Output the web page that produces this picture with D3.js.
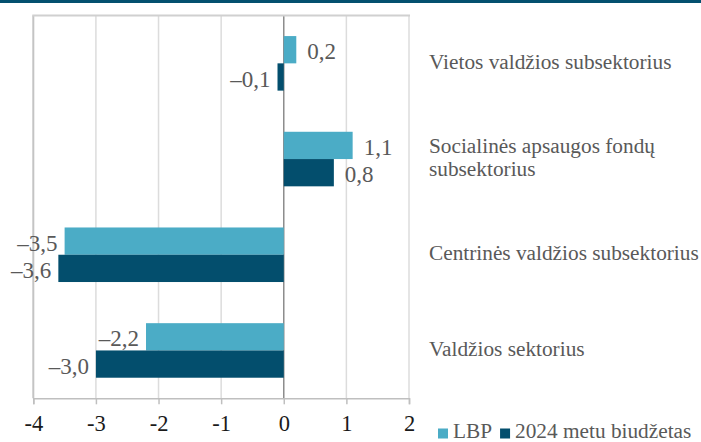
<!DOCTYPE html>
<html lang="lt">
<head>
	<meta charset="utf-8">
	<title>valdzios sektorius</title>
	<script src="https://d3js.org/d3.v7.min.js"></script>
	<style>
		body{ margin:0; background:#fff; }
	</style>
</head>
<body>
<div id="chart"></div>
<script>
// categories top -> bottom, each may have several lines
let categories=["Vietos","Soc","Centr","Valdz"];
let catLabels=[["Vietos valdžios subsektorius"],["Socialinės apsaugos fondų","subsektorius"],["Centrinės valdžios subsektorius"],["Valdžios sektorius"]];
let seriesNames=["LBP","2024 metu biudžetas"];
let lbp=[0.2,1.1,-3.5,-2.2];
let budget=[-0.1,0.8,-3.6,-3.0];
let ticks=[-4,-3,-2,-1,0,1,2];
let colors=["#4bacc6","#034e6d"];

let W=701,H=442;
let pTop=15.5,pBottom=398.3,pLeft=33.3,pRight=409;
let serif="'Liberation Serif', 'Times New Roman', Times, serif";

let svg=d3.select("#chart").append("svg").attr("width",W).attr("height",H)
	.attr("font-family",serif);

// dark band at the very top
svg.append("rect").attr("x",0).attr("y",0).attr("width",W).attr("height",3).attr("fill","#03506f");

let x=d3.scaleLinear().domain([-4,2]).range([pLeft,pRight]);
let y=d3.scaleBand().domain(categories).range([pTop,pBottom]).paddingInner(0.43).paddingOuter(0.215);
let ys=d3.scaleBand().domain([0,1]).range([0,y.bandwidth()]);

// grid + frame
svg.selectAll("line.grid").data(ticks).enter().append("line")
	.attr("x1",d=>x(d)).attr("x2",d=>x(d)).attr("y1",pTop).attr("y2",pBottom)
	.attr("stroke",d=>d==0?"#8c8c8c":(d==-4?"#c4c4c4":"#dcdcdc")).attr("stroke-width",d=>d==-4?2:1.5);
svg.append("line").attr("x1",x(-4)-1).attr("x2",x(2)+1).attr("y1",pTop).attr("y2",pTop).attr("stroke","#d0d0d0").attr("stroke-width",2);

// bottom axis
let ax=svg.append("g").attr("transform","translate(0,"+pBottom+")")
	.call(d3.axisBottom(x).tickValues(ticks).tickSize(6).tickPadding(11).tickFormat(d3.format("d")));
ax.attr("font-family",serif).attr("font-size",22.5);
ax.select(".domain").attr("stroke","#bfbfbf").attr("stroke-width",1.5);
ax.selectAll(".tick line").attr("stroke","#bfbfbf").attr("stroke-width",1.5);
ax.selectAll(".tick text").attr("fill","#1a1a1a").text(d=>d<0?"-"+Math.abs(d):d);

let series=[lbp,budget];
let fmt=v=>(v<0?"\u2013":"")+Math.abs(v).toFixed(1).replace(".",",");

series.forEach((vals,si)=>{
	let g=svg.append("g");
	g.selectAll("rect").data(vals).enter().append("rect")
		.attr("x",d=>x(Math.min(0,d)))
		.attr("width",d=>Math.abs(x(d)-x(0)))
		.attr("y",(d,i)=>y(categories[i])+ys(si))
		.attr("height",ys.bandwidth())
		.attr("fill",colors[si]);
	g.selectAll("text").data(vals).enter().append("text")
		.attr("x",d=>d<0?x(d)-7:x(d)+11)
		.attr("y",(d,i)=>y(categories[i])+ys(si)+ys.bandwidth()/2)
		.attr("dy","0.42em")
		.attr("text-anchor",d=>d<0?"end":"start")
		.attr("font-size",23).attr("fill","#595959")
		.text(fmt);
});

// category labels on the right
categories.forEach((c,i)=>{
	let lines=catLabels[i];
	let cy=y(c)+y.bandwidth()/2;
	let t=svg.append("text").attr("x",429).attr("y",cy-(lines.length-1)*11.5+5.5)
		.attr("font-size",21.3).attr("fill","#595959");
	lines.forEach((l,j)=>{
		t.append("tspan").attr("x",429).attr("dy",j==0?0:23).text(l);
	});
});

// legend
let lg=svg.append("g").attr("transform","translate(438,438)");
let lx=0;
seriesNames.forEach((n,i)=>{
	lg.append("rect").attr("x",lx).attr("y",-9.5).attr("width",10).attr("height",10).attr("fill",colors[i]);
	let t=lg.append("text").attr("x",lx+15).attr("y",0)
		.attr("font-size",21.3).attr("fill","#595959").text(n);
	lx+=15+t.node().getComputedTextLength()+8;
});
</script>
</body>
</html>
